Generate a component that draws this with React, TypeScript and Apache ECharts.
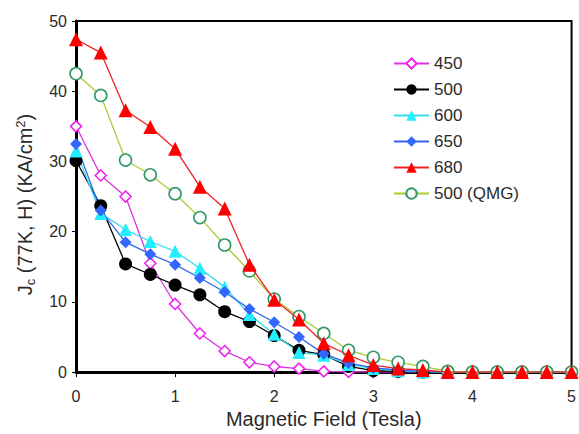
import React, { useEffect, useRef } from "react";
import * as echarts from "echarts";

const fields = [0, 0.25, 0.5, 0.75, 1, 1.25, 1.5, 1.75, 2, 2.25, 2.5, 2.75, 3, 3.25, 3.5, 3.75, 4, 4.25, 4.5, 4.75, 5];

const s450 = [35.0, 28.0, 25.0, 15.5, 9.7, 5.5, 3.0, 1.4, 0.8, 0.5, 0.1, 0.05, 0, 0, 0, 0, 0, 0, 0, 0, 0];
const s500 = [30.1, 23.7, 15.4, 13.9, 12.4, 11.0, 8.6, 7.2, 5.2, 3.1, 2.5, 0.8, 0.2, 0.1, 0, 0, 0, 0, 0, 0, 0];
const s600 = [31.5, 22.6, 20.3, 18.6, 17.2, 14.8, 12.1, 8.2, 5.4, 2.8, 2.4, 1.1, 0.5, 0.2, 0, 0, 0, 0, 0, 0, 0];
const s650 = [32.5, 23.0, 18.5, 16.8, 15.3, 13.4, 11.4, 9.0, 7.1, 5.0, 2.6, 1.3, 0.6, 0.3, 0.1, 0, 0, 0, 0, 0, 0];
const s680 = [47.4, 45.5, 37.3, 34.9, 31.8, 26.4, 23.3, 15.3, 10.3, 7.5, 4.1, 2.4, 1.0, 0.5, 0.3, 0, 0, 0, 0, 0, 0];
const sQMG = [42.5, 39.4, 30.2, 28.1, 25.4, 22.0, 18.1, 14.4, 10.4, 7.9, 5.5, 3.1, 2.1, 1.4, 0.8, 0.1, 0, 0, 0, 0, 0];

const names = ["450", "500", "600", "650", "680", "500 (QMG)"];

const FONT = "Liberation Sans, Arial, sans-serif";
const TXT = "#2a2a2a";

function pairs(vals: number[]) {
  return fields.map((f, i) => [f, vals[i]]);
}

export default function App() {
  const ref = useRef<HTMLDivElement>(null);
  useEffect(() => {
    document.body.style.margin = "0";
    const chart = echarts.init(ref.current!, null, { renderer: "svg" });
    const mk = (
      name: string,
      vals: number[],
      line: string,
      symbol: string,
      size: number,
      fill: string,
      border: string,
      z: number
    ) => ({
      name,
      type: "line",
      data: pairs(vals),
      symbol,
      symbolSize: size,
      showAllSymbol: true,
      z,
      lineStyle: { color: line, width: 1.3 },
      itemStyle: { color: fill, borderColor: border, borderWidth: fill === "#fff" ? 1.6 : 0 },
      emphasis: { disabled: true },
    });
    chart.setOption({
      animation: false,
      textStyle: { fontFamily: FONT },
      grid: {
        left: 76,
        right: 1,
        top: 21,
        bottom: 59,
        show: true,
        borderColor: "#000",
        borderWidth: 2,
      },
      legend: {
        orient: "vertical",
        left: 388,
        top: 50,
        itemGap: 9,
        itemWidth: 35,
        itemHeight: 13,
        data: names,
        textStyle: { fontSize: 17, lineHeight: 17, color: TXT, fontFamily: FONT },
      },
      xAxis: {
        type: "value",
        min: 0,
        max: 5,
        interval: 1,
        name: "Magnetic Field (Tesla)",
        nameLocation: "middle",
        nameGap: 33,
        nameTextStyle: { fontSize: 20, color: TXT, fontFamily: FONT },
        axisLine: { onZero: false, lineStyle: { color: "#000", width: 3 } },
        axisTick: { show: true, length: 5, lineStyle: { color: "#000" } },
        axisLabel: { fontSize: 16, color: TXT, margin: 16, fontFamily: FONT },
        splitLine: { show: false },
      },
      yAxis: {
        type: "value",
        min: 0,
        max: 50,
        interval: 10,
        name: "{a|J}{sub|c}{a| (77K, H) (KA/cm}{sup|2}{a|)}",
        nameLocation: "middle",
        nameGap: 38,
        nameTextStyle: {
          fontSize: 20,
          color: TXT,
          fontFamily: FONT,
          padding: [0, 16, 0, 0],
          rich: {
            a: { fontSize: 20, color: TXT, fontFamily: FONT, lineHeight: 26 },
            sub: { fontSize: 13, color: TXT, fontFamily: FONT, padding: [10, 0, 0, 0], lineHeight: 26 },
            sup: { fontSize: 13, color: TXT, fontFamily: FONT, padding: [0, 0, 10, 0], lineHeight: 26 },
          },
        },
        axisLine: { show: true, lineStyle: { color: "#000", width: 3 } },
        axisTick: { show: true, length: 4, lineStyle: { color: "#000" } },
        axisLabel: { fontSize: 16, color: TXT, margin: 9, fontFamily: FONT },
        splitLine: { show: false },
      },
      series: [
        mk("450", s450, "#DD33DD", "diamond", 11, "#fff", "#EE22EE", 2),
        mk("500", s500, "#000", "circle", 13, "#000", "#000", 2),
        mk("600", s600, "#33DDEE", "triangle", 13, "#22EEFF", "#22EEFF", 2),
        mk("650", s650, "#3366EE", "diamond", 12, "#3366FF", "#3366FF", 2),
        mk("680", s680, "#EE2222", "triangle", 14, "#FF0000", "#FF0000", 4),
        mk("500 (QMG)", sQMG, "#AACC33", "circle", 12, "#fff", "#339966", 3),
      ],
    });
    return () => chart.dispose();
  }, []);
  return <div ref={ref} style={{ position: "absolute", left: 0, top: 0, width: 579, height: 434 }} />;
}
